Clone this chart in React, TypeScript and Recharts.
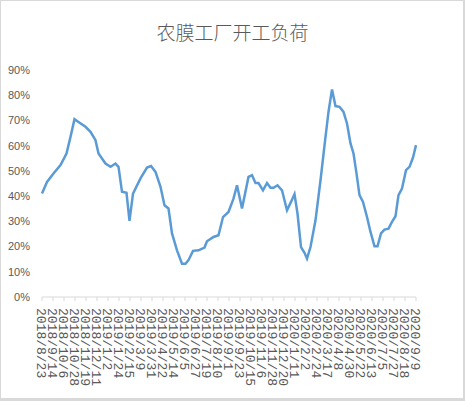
import React from 'react';
import { Line, LineChart, XAxis, YAxis } from 'recharts';

// sample dates and operating rate (%)
const dates = [
  '2018/8/23', '2018/9/2', '2018/9/15', '2018/9/29', '2018/10/11', '2018/10/19', '2018/10/27',
  '2018/11/4', '2018/11/18', '2018/11/28', '2018/12/8', '2018/12/14', '2018/12/28', '2019/1/7',
  '2019/1/17', '2019/1/23', '2019/1/30', '2019/2/8', '2019/2/14', '2019/2/21', '2019/3/8',
  '2019/3/21', '2019/3/29', '2019/4/7', '2019/4/17', '2019/4/25', '2019/5/3', '2019/5/10',
  '2019/5/20', '2019/5/30', '2019/6/6', '2019/6/12', '2019/6/21', '2019/7/2', '2019/7/14',
  '2019/7/19', '2019/8/1', '2019/8/11', '2019/8/20', '2019/8/31', '2019/9/10', '2019/9/17',
  '2019/9/27', '2019/10/10', '2019/10/17', '2019/10/24', '2019/10/30', '2019/11/8', '2019/11/16',
  '2019/11/23', '2019/11/29', '2019/12/7', '2019/12/16', '2019/12/26', '2020/1/3', '2020/1/10',
  '2020/1/16', '2020/1/23', '2020/1/30', '2020/2/4', '2020/2/11', '2020/2/21', '2020/3/2',
  '2020/3/12', '2020/3/18', '2020/3/25', '2020/4/1', '2020/4/9', '2020/4/17', '2020/4/24',
  '2020/5/1', '2020/5/7', '2020/5/13', '2020/5/19', '2020/5/26', '2020/6/3', '2020/6/10',
  '2020/6/18', '2020/6/24', '2020/7/1', '2020/7/8', '2020/7/16', '2020/7/23', '2020/7/30',
  '2020/8/5', '2020/8/12', '2020/8/20', '2020/8/27', '2020/9/3', '2020/9/9',
];

const rates = [
  41, 45.6, 49, 52.3, 56.9, 63.5, 70.5,
  69.4, 67.5, 65.5, 62.2, 56.9, 52.9, 51.6,
  52.9, 51.6, 41.7, 41.3, 30.2, 41, 47,
  51.3, 51.9, 49.6, 43.7, 36.4, 35.1, 25.2,
  18.5, 13.2, 13.2, 14.6, 18.3, 18.5, 19.6,
  22.1, 23.8, 24.5, 31.7, 33.7, 39, 44.3,
  35.1, 47.6, 48.3, 45.2, 45.2, 42.3, 45.2,
  43.3, 43.3, 44.3, 42.3, 34.4, 37.7, 40.8,
  33.1, 19.8, 17.5, 15.2, 19.8, 30.4, 46.3,
  63.5, 73.4, 82.3, 75.7, 75.4, 73.4, 68.8,
  60.9, 56.9, 49, 40.4, 37.7, 31.7, 25.8,
  20.1, 20.1, 25.2, 26.7, 27.1, 29.8, 32,
  40.4, 43, 50.3, 51.6, 55.3, 60.2,
];

const tickLabels = [
  '2018/8/23', '2018/9/14', '2018/10/6', '2018/10/28', '2018/11/19', '2018/12/11',
  '2019/1/2', '2019/1/24', '2019/2/15', '2019/3/9', '2019/3/31', '2019/4/22', '2019/5/14',
  '2019/6/5', '2019/6/27', '2019/7/19', '2019/8/10', '2019/9/1', '2019/9/23', '2019/10/15',
  '2019/11/6', '2019/11/28', '2019/12/20', '2020/1/11', '2020/2/2', '2020/2/24', '2020/3/17',
  '2020/4/8', '2020/4/30', '2020/5/22', '2020/6/13', '2020/7/5', '2020/7/27', '2020/8/18',
  '2020/9/9',
];

const yTicks = [0, 10, 20, 30, 40, 50, 60, 70, 80, 90];

const toTime = (s: string) => {
  const [y, m, d] = s.split('/').map(Number);
  return Date.UTC(y, m - 1, d);
};

const fmtDate = (t: number) => {
  const d = new Date(t);
  return `${d.getUTCFullYear()}/${d.getUTCMonth() + 1}/${d.getUTCDate()}`;
};

const data = dates.map((d, i) => ({ t: toTime(d), rate: rates[i] }));
const xTicks = tickLabels.map(toTime);

const DateTick = (props: any) => {
  const { x, y, payload } = props;
  return (
    <text
      x={x}
      y={y + 5}
      dy="0.35em"
      transform={`rotate(90, ${x}, ${y + 5})`}
      textAnchor="start"
      fill="#595959"
      fontSize={13}
      fontFamily="Liberation Mono"
    >
      {fmtDate(payload.value)}
    </text>
  );
};

const App = () => {
  return (
    <div style={{ position: 'absolute', left: 0, top: 0, width: 465, height: 401, background: '#d9d9d9' }}>
      <div style={{ position: 'absolute', left: 1, top: 1, width: 462, height: 397, background: '#fff' }} />
      <div
        style={{
          position: 'absolute',
          left: 0,
          top: 20,
          width: 465,
          textAlign: 'center',
          fontSize: 19,
          lineHeight: '24px',
          color: '#595959',
          fontWeight: 300,
          fontFamily: 'Noto Sans CJK SC',
        }}
      >
        农膜工厂开工负荷
      </div>
      <div style={{ position: 'absolute', left: 0, top: 0 }}>
        <LineChart width={465} height={401} data={data} margin={{ top: 70, right: 49, bottom: 14, left: 0 }}>
          <XAxis
            dataKey="t"
            type="number"
            scale="time"
            domain={[xTicks[0], xTicks[xTicks.length - 1]]}
            ticks={xTicks}
            interval={0}
            height={90}
            tick={<DateTick />}
            tickSize={4}
            stroke="#d9d9d9"
          />
          <YAxis
            domain={[0, 90]}
            ticks={yTicks}
            width={42}
            axisLine={false}
            tickLine={false}
            tickMargin={6}
            tickFormatter={(v) => `${v}%`}
            tick={{ fill: '#595959', fontSize: 11, fontFamily: 'Liberation Sans Narrow, Liberation Sans' }}
          />
          <Line
            type="linear"
            dataKey="rate"
            stroke="#5b9bd5"
            strokeWidth={2.5}
            dot={false}
            isAnimationActive={false}
          />
        </LineChart>
      </div>
    </div>
  );
};

export default App;
